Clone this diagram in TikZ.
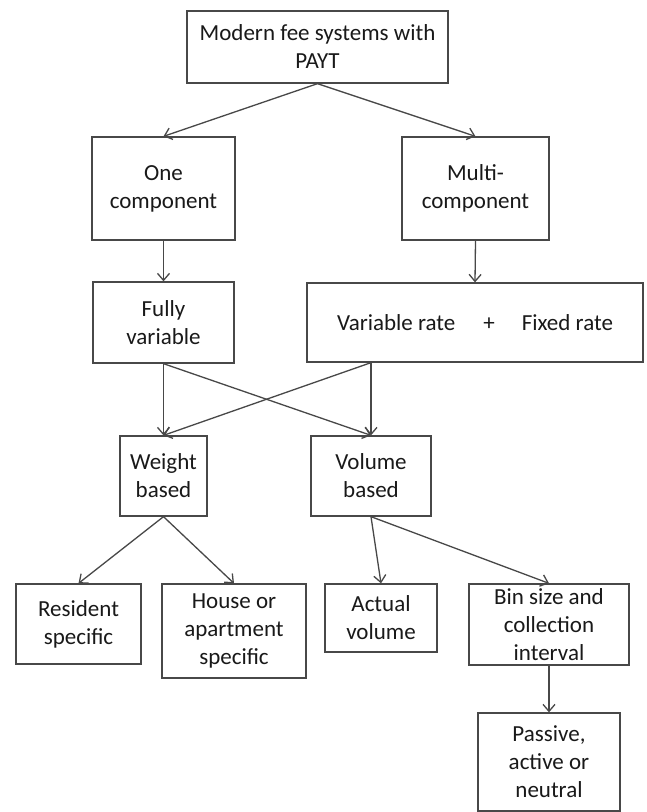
\documentclass[tikz,border=0pt]{standalone}
\usepackage{fontspec}
\setmainfont{Carlito}
\usetikzlibrary{arrows.meta}
\definecolor{lineclr}{RGB}{72,72,72}
\definecolor{txtclr}{RGB}{25,25,25}
\begin{document}
\begin{tikzpicture}[x=1pt,y=-1pt,
  box/.style={draw=lineclr, line width=1.3pt, fill=white, align=center, inner sep=0pt,
    text=txtclr, font=\fontsize{23}{28}\selectfont},
  conn/.style={draw=lineclr, line width=1.3pt, -{Straight Barb[length=7pt,width=12pt,line width=1.3pt]}}
]
\useasboundingbox (0,0) rectangle (646,812);
\fill[white] (0,0) rectangle (646,812);

\node[box, minimum width=261pt, minimum height=72pt] (top) at (317.5,47) {Modern fee systems with\\PAYT};
\node[box, minimum width=143pt, minimum height=103pt] (one) at (163.5,188.5) {One\\component};
\node[box, minimum width=147pt, minimum height=103pt] (multi) at (475.5,188.5) {Multi-\\component};
\node[box, minimum width=141pt, minimum height=81pt] (fully) at (163.5,322.5) {Fully\\variable};
\node[box, minimum width=336pt, minimum height=79pt] (vr) at (475,322.5) {Variable rate\hspace{28pt}+\hspace{27pt}Fixed rate};
\node[box, minimum width=87pt, minimum height=80pt] (weight) at (163.5,476) {Weight\\based};
\node[box, minimum width=120pt, minimum height=80pt] (volume) at (371,476) {Volume\\based};
\node[box, minimum width=125pt, minimum height=80pt] (resident) at (78.5,624) {Resident\\specific};
\node[box, minimum width=144pt, minimum height=94pt] (house) at (234,631) {House or\\apartment\\specific};
\node[box, minimum width=112pt, minimum height=68pt] (actual) at (381,618) {Actual\\volume};
\node[box, minimum width=160pt, minimum height=81pt] (bin) at (549,624.5) {Bin size and\\collection\\interval};
\node[box, minimum width=142pt, minimum height=98pt] (passive) at (549,762) {Passive,\\active or\\neutral};

\draw[conn] (top.south) -- (one.north);
\draw[conn] (top.south) -- (multi.north);
\draw[conn] (one.south) -- (fully.north);
\draw[conn] (multi.south) -- (vr.north);
\draw[conn] (fully.south) -- (weight.north);
\draw[conn] (fully.south) -- (volume.north);
\draw[conn] (vr.south -| volume.north) -- (volume.north);
\draw[conn] (vr.south -| volume.north) -- (weight.north);
\draw[conn] (weight.south) -- (resident.north);
\draw[conn] (weight.south) -- (house.north);
\draw[conn] (volume.south) -- (actual.north);
\draw[conn] (volume.south) -- (bin.north);
\draw[conn] (bin.south) -- (passive.north);
\end{tikzpicture}
\end{document}
